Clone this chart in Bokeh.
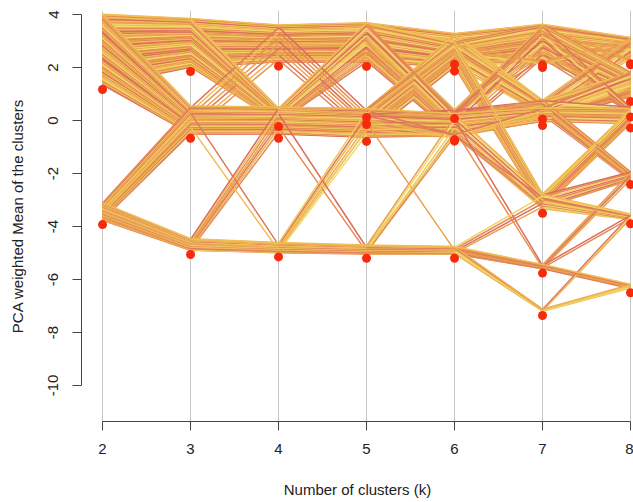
from bokeh.plotting import figure
from bokeh.models import Range1d, FixedTicker
from bokeh.embed import file_html
from bokeh.resources import INLINE

# ---- data ----
k_values = [2, 3, 4, 5, 6, 7, 8]
y_ticks = [-10, -8, -6, -4, -2, 0, 2, 4]

# cluster centres (red points) for each k
centers_k2 = [1.17, -3.93]
centers_k3 = [1.85, -0.67, -5.06]
centers_k4 = [2.05, -0.23, -0.67, -5.15]
centers_k5 = [2.04, 0.11, -0.15, -0.79, -5.20]
centers_k6 = [2.12, 1.86, 0.07, -0.73, -0.78, -5.20]
centers_k7 = [2.10, 2.00, 0.06, -0.19, -3.50, -5.76, -7.36]
centers_k8 = [2.14, 2.10, 0.72, 0.13, -0.28, -2.42, -3.90, -6.50]

# cluster sizes at k = 2 (number of observations)
sizes_k2 = [240, 60]

# moves of observations between clusters: (from cluster, to cluster, count)
flows_2_3 = [(0, 0, 165), (0, 1, 75), (1, 1, 20), (1, 2, 40)]
flows_3_4 = [(0, 0, 118), (0, 1, 47), (1, 0, 7), (1, 1, 1), (1, 2, 85), (1, 3, 2),
             (2, 2, 7), (2, 3, 33)]
flows_4_5 = [(0, 0, 117), (0, 3, 8), (1, 0, 17), (1, 1, 16), (1, 2, 15), (2, 2, 7),
             (2, 3, 83), (2, 4, 2), (3, 3, 6), (3, 4, 29)]
flows_5_6 = [(0, 0, 70), (0, 1, 34), (0, 2, 10), (0, 3, 20), (1, 0, 5), (1, 1, 11),
             (2, 1, 12), (2, 2, 6), (2, 3, 4), (3, 0, 15), (3, 1, 28), (3, 3, 47),
             (3, 4, 6), (3, 5, 1), (4, 3, 4), (4, 4, 2), (4, 5, 25)]
flows_6_7 = [(0, 0, 70), (0, 2, 20), (1, 0, 35), (1, 1, 5), (1, 2, 10), (1, 4, 35),
             (2, 0, 10), (2, 2, 6), (3, 0, 8), (3, 2, 15), (3, 3, 40), (3, 4, 10),
             (3, 5, 2), (4, 3, 6), (4, 4, 2), (5, 4, 4), (5, 5, 14), (5, 6, 8)]
flows_7_8 = [(0, 0, 60), (0, 1, 5), (0, 2, 50), (0, 3, 8), (1, 0, 5), (2, 0, 10),
             (2, 2, 15), (2, 3, 8), (2, 5, 18), (3, 2, 20), (3, 3, 4), (3, 4, 22),
             (4, 4, 28), (4, 5, 8), (4, 6, 15), (5, 5, 4), (5, 6, 2), (5, 7, 10),
             (6, 6, 3), (6, 7, 5)]

# ---- style ----
band_gap = 0.15      # lines start slightly above their cluster centre
line_step = 0.0112   # stacking step of each observation inside its cluster band
palette = ["#E07A5C", "#EBA04C", "#F2D266", "#E8944E", "#EFBE54", "#DC6E60",
           "#F0C85C", "#E9A050", "#F3DA72", "#E58A54", "#EDB250"]

centers = dict(zip(k_values, [centers_k2, centers_k3, centers_k4, centers_k5,
                              centers_k6, centers_k7, centers_k8]))
flows = dict(zip(k_values[:-1], [flows_2_3, flows_3_4, flows_4_5, flows_5_6,
                                 flows_6_7, flows_7_8]))


def interleave(counts):
    slots = []
    for t, c in counts:
        for q in range(c):
            slots.append(((q + 0.5) / c, t))
    slots.sort()
    return [t for _, t in slots]


n_obs = sum(sizes_k2)
labels = {2: interleave(list(enumerate(sizes_k2)))}
for k in k_values[:-1]:
    cur = labels[k]
    new = list(cur)
    for s in range(len(centers[k])):
        members = [i for i in range(n_obs) if cur[i] == s]
        targets = interleave([(t, c) for (ss, t, c) in flows[k] if ss == s])
        for i, t in zip(members, targets):
            new[i] = t
    labels[k + 1] = [min(t, len(centers[k + 1]) - 1) for t in new]

ys = [[0.0] * len(k_values) for _ in range(n_obs)]
for j, k in enumerate(k_values):
    rank = {}
    for i in range(n_obs):
        c = labels[k][i]
        rank[c] = rank.get(c, 0) + 1
        ys[i][j] = centers[k][c] + band_gap + line_step * rank[c]

xs = [list(k_values) for _ in range(n_obs)]
cols = [palette[((i // 4) * 5 + i // 37) % len(palette)] for i in range(n_obs)]

p = figure(width=633, height=502, output_backend="svg", toolbar_location=None,
           x_range=Range1d(1.761, 8.034), y_range=Range1d(-11.36, 4.15),
           min_border_left=81, min_border_right=0, min_border_top=10,
           min_border_bottom=81, title=None)
p.outline_line_color = None
p.background_fill_color = "white"
p.xgrid.ticker = FixedTicker(ticks=k_values)
p.xgrid.grid_line_color = "#C6C6C6"
p.xgrid.grid_line_width = 1
p.ygrid.grid_line_color = None

p.multi_line(xs=xs, ys=ys, line_color=cols, line_width=1.5)

cx, cy = [], []
for k in k_values:
    for v in centers[k]:
        cx.append(k)
        cy.append(v)
p.scatter(x=cx, y=cy, size=9, fill_color="#F82A0C", line_color=None)

FONT = "Liberation Sans"
xa = p.xaxis[0]
xa.ticker = FixedTicker(ticks=k_values)
xa.bounds = (2, 8)
xa.axis_label = "Number of clusters (k)"
ya = p.yaxis[0]
ya.ticker = FixedTicker(ticks=y_ticks)
ya.bounds = (-10, 4)
ya.major_label_overrides = {float(t): str(t) for t in y_ticks}
ya.axis_label = "PCA weighted Mean of the clusters"
ya.major_label_orientation = "vertical"
for ax in (xa, ya):
    ax.axis_line_color = "#444444"
    ax.axis_line_width = 1
    ax.major_tick_line_color = "#444444"
    ax.major_tick_out = 9
    ax.major_tick_in = 0
    ax.minor_tick_line_color = None
    ax.major_label_text_font = FONT
    ax.major_label_text_font_size = "15px"
    ax.major_label_text_color = "#222222"
    ax.axis_label_text_font = FONT
    ax.axis_label_text_font_size = "15px"
    ax.axis_label_text_font_style = "normal"
    ax.axis_label_text_color = "#222222"
xa.major_label_standoff = 13
xa.axis_label_standoff = 24
ya.major_label_standoff = 14
ya.axis_label_standoff = 20

open("out.html", "w").write(file_html(p, INLINE))
